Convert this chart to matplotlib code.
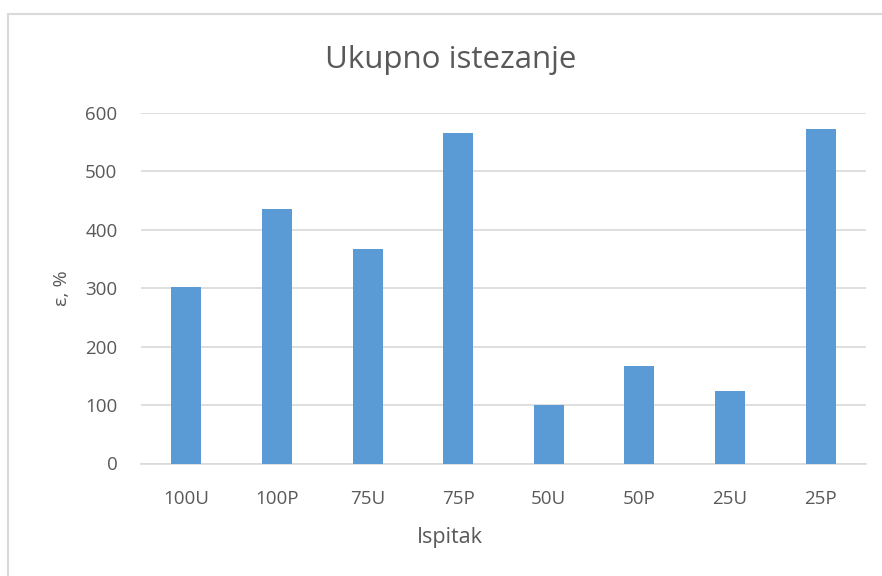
import matplotlib.pyplot as plt
from matplotlib.patches import Rectangle

# data
samples = ['100U', '100P', '75U', '75P', '50U', '50P', '25U', '25P']
elongation = [302, 435, 367, 566, 100, 167, 124, 572]
y_ticks = [0, 100, 200, 300, 400, 500, 600]

bar_color = '#5B9BD5'
text_color = '#595959'
grid_color = '#D9D9D9'

plt.rcParams['font.family'] = ['Open Sans', 'DejaVu Sans']

W, H = 882, 576
fig = plt.figure(figsize=(W / 100, H / 100), dpi=100)

# chart area border (runs off the right and bottom edge)
fig.patches.append(Rectangle((8 / W, -0.01), 1.0, 1 - 13.5 / H + 0.01,
                             transform=fig.transFigure, fill=False,
                             edgecolor=grid_color, linewidth=1.5))

ax = fig.add_axes([141 / W, 1 - 463.5 / H, (866 - 141) / W, (463.5 - 113) / H])

x = range(len(samples))
ax.bar(x, elongation, width=0.33, color=bar_color, zorder=3)

ax.set_xlim(-0.5, len(samples) - 0.5)
ax.set_ylim(0, 600)
ax.set_yticks(y_ticks)
ax.set_xticks(list(x))
ax.set_xticklabels(samples)
ax.grid(axis='y', color=grid_color, linewidth=1.2, zorder=0)

for side in ['top', 'right', 'left']:
    ax.spines[side].set_visible(False)
ax.spines['bottom'].set_color(grid_color)
ax.spines['bottom'].set_linewidth(1.2)

ax.tick_params(axis='both', length=0, labelsize=13.5, colors=text_color)
ax.tick_params(axis='x', pad=19)
ax.tick_params(axis='y', pad=17)

fig.text(451 / W, 1 - 60 / H, 'Ukupno istezanje', fontsize=22.5, color=text_color,
         ha='center', va='center')
fig.text(450 / W, 1 - 537 / H, 'Ispitak', fontsize=15.5, color=text_color,
         ha='center', va='center')
fig.text(62 / W, 1 - 288 / H, 'ε, %', fontsize=14, color=text_color,
         ha='center', va='center', rotation=90)

fig.savefig('out.png', dpi=100)
